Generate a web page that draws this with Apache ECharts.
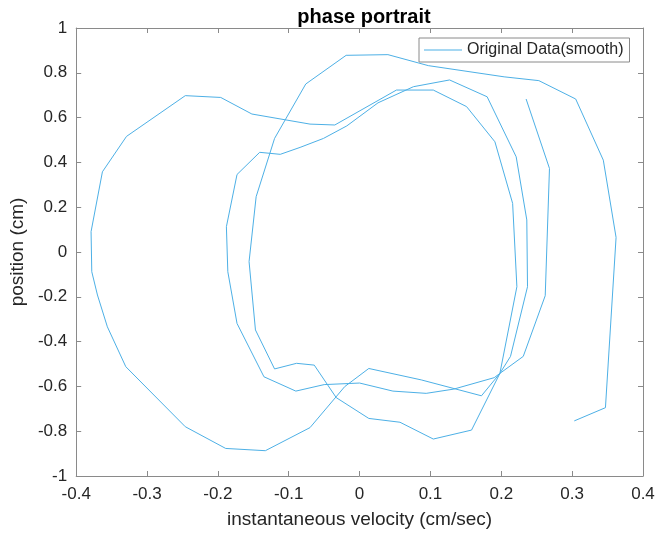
<!DOCTYPE html>
<html>
<head>
<meta charset="utf-8">
<script src="https://cdn.jsdelivr.net/npm/echarts@6/dist/echarts.min.js"></script>
<style>
html,body{margin:0;padding:0;background:#fff;}
#chart{width:659px;height:535px;}
</style>
</head>
<body>
<div id="chart"></div>
<script>
// Phase portrait path, in drawing order
var velocity = [
  0.303, 0.347, 0.362, 0.344, 0.305, 0.253, 0.204, 0.097, 0.040, -0.019,
  -0.076, -0.120, -0.146, -0.156, -0.147, -0.120, -0.089, -0.064, -0.033, 0.013,
  0.057, 0.104, 0.158, 0.198, 0.222, 0.216, 0.191, 0.151, 0.104, 0.052,
  -0.035, -0.070, -0.152, -0.196, -0.246, -0.329, -0.363, -0.379, -0.378, -0.370,
  -0.356, -0.330, -0.246, -0.189, -0.133, -0.070, -0.021, 0.013, 0.087, 0.172,
  0.198, 0.213, 0.237, 0.236, 0.221, 0.180, 0.127, 0.076, 0.026, -0.018,
  -0.051, -0.084, -0.112, -0.141, -0.173, -0.188, -0.186, -0.173, -0.135, -0.090,
  -0.050, 0.000, 0.047, 0.094, 0.133, 0.190, 0.198, 0.231, 0.262, 0.268,
  0.235
];
var position = [
  -0.754, -0.695, 0.065, 0.410, 0.683, 0.765, 0.782, 0.832, 0.881, 0.878,
  0.750, 0.507, 0.247, -0.043, -0.348, -0.522, -0.497, -0.505, -0.650, -0.743,
  -0.760, -0.835, -0.795, -0.542, -0.155, 0.217, 0.492, 0.649, 0.723, 0.723,
  0.567, 0.571, 0.616, 0.690, 0.698, 0.516, 0.358, 0.091, -0.088, -0.192,
  -0.334, -0.512, -0.780, -0.877, -0.887, -0.784, -0.601, -0.520, -0.571, -0.642,
  -0.542, -0.466, -0.155, 0.143, 0.425, 0.693, 0.768, 0.738, 0.666, 0.563,
  0.507, 0.467, 0.436, 0.445, 0.346, 0.113, -0.088, -0.319, -0.557, -0.621,
  -0.592, -0.585, -0.621, -0.631, -0.612, -0.561, -0.542, -0.466, -0.195, 0.373,
  0.683
];
var xTicks = [-0.4, -0.3, -0.2, -0.1, 0, 0.1, 0.2, 0.3, 0.4];
var yTicks = [-1, -0.8, -0.6, -0.4, -0.2, 0, 0.2, 0.4, 0.6, 0.8, 1];
var seriesName = 'Original Data(smooth)';
var titleText = 'phase portrait';
var xLabel = 'instantaneous velocity (cm/sec)';
var yLabel = 'position (cm)';

var FONT = '"Liberation Sans", Arial, Helvetica, sans-serif';
var AX = '#8a8a8a';
var TXT = '#262626';
var LINE = '#4db0e6';

var pts = velocity.map(function (v, i) { return [v, position[i]]; });

var xStep = +(xTicks[1] - xTicks[0]).toFixed(6);
var yStep = +(yTicks[1] - yTicks[0]).toFixed(6);

function axisBase(min, max, step) {
  return {
    type: 'value', min: min, max: max, interval: step,
    axisLine: { show: true, onZero: false, lineStyle: { color: AX, width: 1 } },
    axisTick: { show: true, inside: true, length: 5, lineStyle: { color: AX, width: 1 } },
    splitLine: { show: false }
  };
}

var xMin = xTicks[0], xMax = xTicks[xTicks.length - 1];
var yMin = yTicks[0], yMax = yTicks[yTicks.length - 1];

var xBottom = axisBase(xMin, xMax, xStep);
xBottom.position = 'bottom';
xBottom.name = xLabel;
xBottom.nameLocation = 'middle';
xBottom.nameGap = 34;
xBottom.nameTextStyle = { fontFamily: FONT, fontSize: 19, color: TXT };
xBottom.axisLabel = { show: true, margin: 10, fontFamily: FONT, fontSize: 17, color: TXT,
  formatter: function (v) { return String(+v.toFixed(2)); } };

var xTop = axisBase(xMin, xMax, xStep);
xTop.position = 'top';
xTop.axisLabel = { show: false };

var yLeft = axisBase(yMin, yMax, yStep);
yLeft.position = 'left';
yLeft.name = yLabel;
yLeft.nameLocation = 'middle';
yLeft.nameGap = 41;
yLeft.nameTextStyle = { fontFamily: FONT, fontSize: 19, color: TXT };
yLeft.axisLabel = { show: true, margin: 9, fontFamily: FONT, fontSize: 17, color: TXT,
  formatter: function (v) { return String(+v.toFixed(2)); } };

var yRight = axisBase(yMin, yMax, yStep);
yRight.position = 'right';
yRight.axisLabel = { show: false };

var chart = echarts.init(document.getElementById('chart'), null, { renderer: 'canvas' });
chart.setOption({
  animation: false,
  backgroundColor: '#ffffff',
  title: {
    text: titleText,
    left: 359,
    textAlign: 'center',
    top: 2,
    textStyle: { fontFamily: FONT, fontSize: 20, fontWeight: 'bold', color: '#000' }
  },
  legend: {
    data: [{ name: seriesName, icon: 'rect' }],
    left: 419,
    top: 38,
    width: 214,
    padding: [4, 6, 4, 5],
    itemWidth: 38,
    itemHeight: 1,
    itemGap: 5,
    borderColor: '#8a8a8a',
    borderWidth: 1,
    backgroundColor: '#fff',
    textStyle: { fontFamily: FONT, fontSize: 16, color: TXT, padding: [0, 0, 0, 0], height: 16, lineHeight: 16 }
  },
  grid: { left: 74, top: 28, width: 569, height: 448, containLabel: false },
  xAxis: [xBottom, xTop],
  yAxis: [yLeft, yRight],
  series: [{
    name: seriesName,
    type: 'line',
    xAxisIndex: 0,
    yAxisIndex: 0,
    data: pts,
    symbol: 'none',
    smooth: false,
    lineStyle: { color: LINE, width: 1 },
    itemStyle: { color: LINE }
  }]
});
</script>
</body>
</html>
